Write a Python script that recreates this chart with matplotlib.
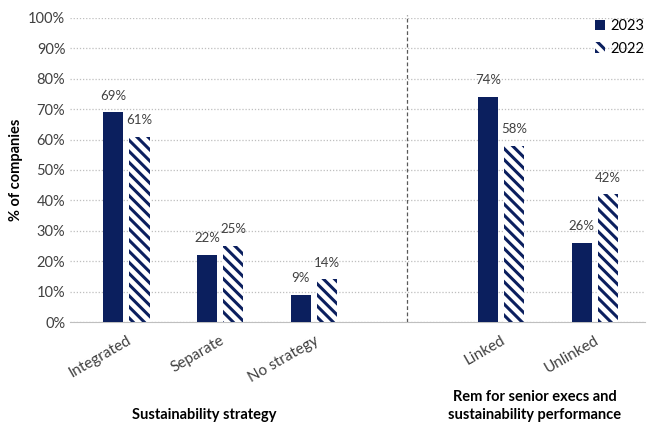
import matplotlib
matplotlib.use("Agg")
import matplotlib.pyplot as plt
import numpy as np

plt.rcParams['font.family'] = ['Lato', 'DejaVu Sans']
plt.rcParams['hatch.linewidth'] = 2.2

categories = ["Integrated", "Separate", "No strategy", "Linked", "Unlinked"]
vals_2023 = [69, 22, 9, 74, 26]
vals_2022 = [61, 25, 14, 58, 42]
labels_2023 = ["69%", "22%", "9%", "74%", "26%"]
labels_2022 = ["61%", "25%", "14%", "58%", "42%"]
positions = [0, 1, 2, 4, 5]
group_titles = ["Sustainability strategy", "Rem for senior execs and\nsustainability performance"]

navy = "#0b1f5e"

fig = plt.figure(figsize=(6.5, 4.26), dpi=100)
ax = fig.add_axes([0.108, 0.244, 0.885, 0.714])

w = 0.215
off = 0.14
pos = np.array(positions, dtype=float)
ax.bar(pos - off, vals_2023, width=w, color=navy, label="2023", zorder=3)
ax.bar(pos + off, vals_2022, width=w, color="white", edgecolor=navy, hatch="\\\\\\",
       linewidth=0, label="2022", zorder=3)

for x, v, t in zip(pos - off, vals_2023, labels_2023):
    ax.text(x, v + 3.5, t, ha="center", va="bottom", fontsize=9.5, color="#404040")
for x, v, t in zip(pos + off, vals_2022, labels_2022):
    ax.text(x, v + 3.5, t, ha="center", va="bottom", fontsize=9.5, color="#404040")

ax.set_ylim(0, 100)
ax.set_xlim(-0.6, 5.54)
ax.set_yticks(range(0, 101, 10))
ax.set_yticklabels([f"{v}%" for v in range(0, 101, 10)], fontsize=10.5, color="#404040")
ax.yaxis.grid(True, linestyle=(0, (1, 1.5)), color="#bfbfbf", linewidth=0.9, zorder=0)
ax.set_axisbelow(True)
for s in ["top", "right", "left"]:
    ax.spines[s].set_visible(False)
ax.spines["bottom"].set_color("#bfbfbf")
ax.tick_params(axis="both", length=0)
ax.tick_params(axis="x", pad=8)
ax.set_xticks(positions)
ax.set_xticklabels(categories, rotation=30, ha="right", rotation_mode="anchor",
                   fontsize=11, color="#404040")
ax.set_ylabel("% of companies", fontsize=10.5, fontweight="bold", color="black")

ax.axvline(3, ymin=0, ymax=1.01, color="#595959", linestyle=(0, (3, 2)), linewidth=0.9, clip_on=False)

leg = ax.legend(loc="upper right", bbox_to_anchor=(1.02, 1.04), frameon=False, fontsize=10.5,
                handlelength=0.7, handleheight=0.7, handletextpad=0.3, labelspacing=0.6)

fig.text(0.315, 0.01, group_titles[0], ha="center", va="bottom", fontsize=10.5, fontweight="bold")
fig.text(0.823, 0.01, group_titles[1], ha="center", va="bottom", fontsize=10.5, fontweight="bold",
         linespacing=1.3)

fig.savefig("out.png", dpi=100)
